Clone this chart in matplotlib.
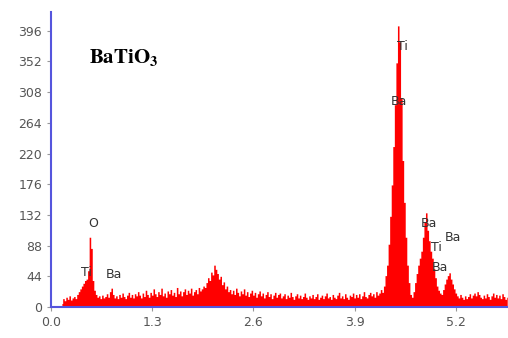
import numpy as np
import matplotlib.pyplot as plt

# EDS spectrum of BaTiO3, counts per 0.02 keV channel starting at 0.14 keV
start_kev = 0.14
step_kev = 0.02
counts = [
    5, 12, 9, 14, 11, 16, 10, 13, 15, 12,
    18, 22, 26, 30, 34, 38, 40, 52, 100, 84,
    38, 24, 18, 14, 16, 12, 17, 13, 15, 19,
    14, 22, 27, 18, 13, 16, 12, 18, 14, 20,
    15, 12, 17, 21, 14, 18, 13, 19, 16, 22,
    17, 13, 20, 15, 24, 18, 14, 21, 17, 26,
    19, 15, 22, 18, 27, 16, 20, 14, 23, 19,
    25, 17, 21, 15, 28, 19, 23, 16, 22, 26,
    18, 24, 20, 27, 17, 22, 25, 19, 28, 23,
    26, 30, 28, 35, 42, 38, 50, 46, 60, 54,
    48, 40, 44, 32, 36, 26, 30, 22, 25, 19,
    24, 18, 27, 21, 16, 23, 19, 26, 17, 22,
    15, 20, 24, 17, 21, 14, 19, 23, 16, 20,
    13, 18, 22, 15, 19, 12, 17, 21, 14, 18,
    20, 13, 16, 19, 12, 17, 14, 21, 15, 11,
    16, 19, 13, 17, 12, 15, 20, 14, 11, 16,
    13, 18, 12, 15, 19, 11, 14, 17, 12, 16,
    20, 13, 15, 11, 18, 14, 12, 17, 21, 13,
    16, 12, 19, 14, 11, 17, 15, 20, 13, 18,
    14, 19, 12, 16, 22, 15, 13, 18, 21, 16,
    19, 14, 22, 17, 20, 25, 21, 30, 45, 60,
    90, 130, 175, 230, 290, 350, 403, 380, 300, 210,
    150, 100, 60, 35, 18, 14, 22, 35, 48, 60,
    70, 80, 100, 122, 135, 110, 95, 80, 70, 55,
    42, 30, 24, 20, 18, 25, 33, 40, 45, 49,
    40, 33, 26, 20, 16, 13, 18, 14, 11, 16,
    12, 15, 19, 13, 17, 20, 16, 22, 18, 14,
    12, 17, 13, 19, 15, 11, 16, 20, 14, 18,
    13, 17, 12, 19, 15, 11, 14,
]
energy = start_kev + step_kev * np.arange(len(counts))

# element labels: (text, energy keV, counts)
peak_labels = [
    ('O', 0.54, 120), ('Ti', 0.46, 49), ('Ba', 0.81, 46),
    ('Ti', 4.52, 373), ('Ba', 4.47, 295),
    ('Ba', 4.86, 120), ('Ti', 4.95, 86), ('Ba', 5.16, 99), ('Ba', 4.99, 57),
]
x_ticks = [0.0, 1.3, 2.6, 3.9, 5.2]
y_ticks = [0, 44, 88, 132, 176, 220, 264, 308, 352, 396]

plt.rcParams['mathtext.fontset'] = 'stix'

fig = plt.figure(figsize=(5.08, 3.38), dpi=100)
ax = fig.add_axes([0.1004, 0.0917, 0.8996, 0.873])

ax.fill_between(energy, counts, step='mid', color='#ff0000', linewidth=0)

for text, x, y in peak_labels:
    ax.text(x, y, text, fontsize=9, color='#333333', ha='center', va='center')

ax.text(0.49, 357, r'$\mathbf{BaTiO_3}$', fontsize=15, color='black',
        ha='left', va='center')

ax.set_xlim(0, 5.87)
ax.set_ylim(0, 423)
ax.set_xticks(x_ticks)
ax.set_xticklabels([f'{v:.1f}' for v in x_ticks])
ax.set_yticks(y_ticks)
ax.tick_params(labelsize=9, labelcolor='#555555', color='#999999', length=3, width=0.8)

for side in ['top', 'right']:
    ax.spines[side].set_visible(False)
for side in ['left', 'bottom']:
    ax.spines[side].set_color('#5555dd')
    ax.spines[side].set_linewidth(1.5)

plt.savefig('out.png', dpi=100)
